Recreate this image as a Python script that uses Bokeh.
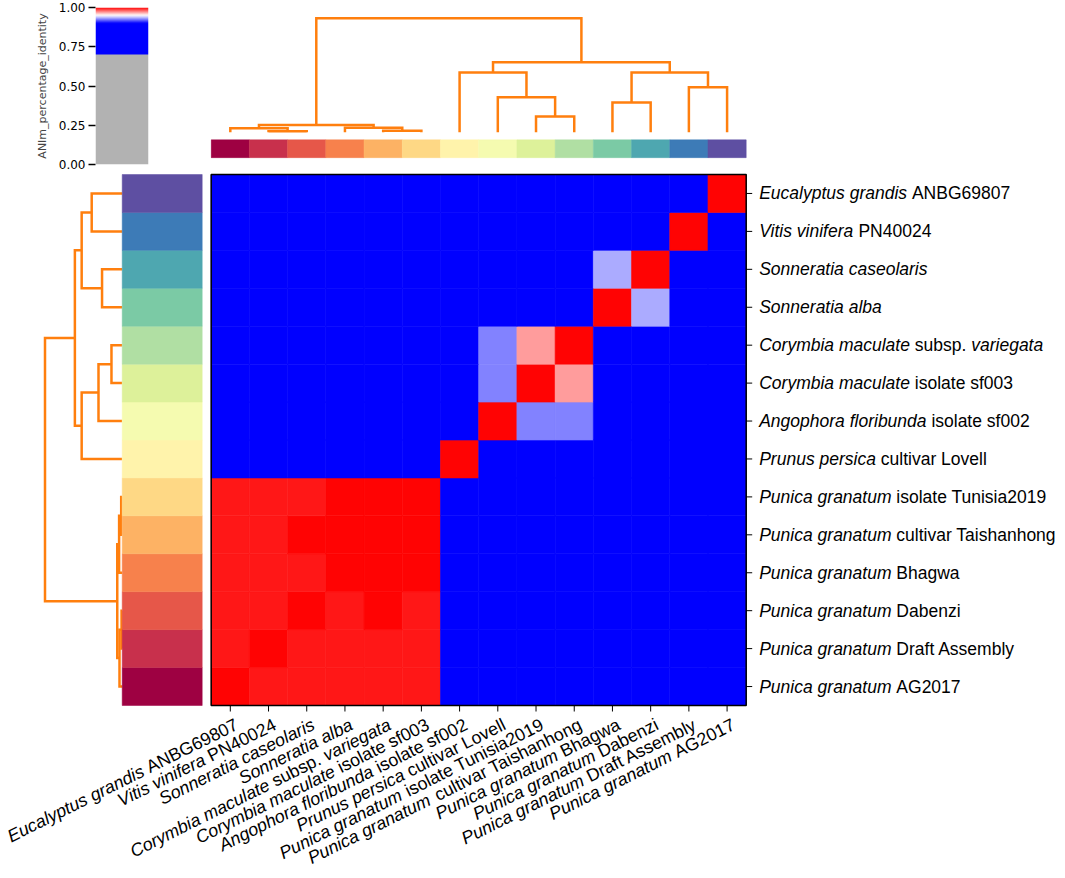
import re
import math
import numpy as np
from bokeh.plotting import figure
from bokeh.models import (Range1d, ColumnDataSource, LinearColorMapper,
                          FixedTicker, PrintfTickFormatter)
from bokeh.layouts import column, row
from bokeh.transform import transform
from bokeh.core.properties import value
from bokeh.embed import file_html
from bokeh.resources import INLINE

# ---------------- data ----------------
# leaf order: heatmap rows bottom -> top, heatmap columns left -> right
leaf_labels = [
    "<i>Punica granatum</i> AG2017",
    "<i>Punica granatum</i> Draft Assembly",
    "<i>Punica granatum</i> Dabenzi",
    "<i>Punica granatum</i> Bhagwa",
    "<i>Punica granatum</i> cultivar Taishanhong",
    "<i>Punica granatum</i> isolate Tunisia2019",
    "<i>Prunus persica</i> cultivar Lovell",
    "<i>Angophora floribunda</i> isolate sf002",
    "<i>Corymbia maculate</i> isolate sf003",
    "<i>Corymbia maculate</i> subsp. <i>variegata</i>",
    "<i>Sonneratia alba</i>",
    "<i>Sonneratia caseolaris</i>",
    "<i>Vitis vinifera</i> PN40024",
    "<i>Eucalyptus grandis</i> ANBG69807",
]

# bottom tick labels exactly as printed, left -> right
x_tick_labels = [
    "<i>Eucalyptus grandis</i> ANBG69807",
    "<i>Vitis vinifera</i> PN40024",
    "<i>Sonneratia caseolaris</i>",
    "<i>Sonneratia alba</i>",
    "<i>Corymbia maculate</i> subsp. <i>variegata</i>",
    "<i>Corymbia maculate</i> isolate sf003",
    "<i>Angophora floribunda</i> isolate sf002",
    "<i>Prunus persica</i> cultivar Lovell",
    "<i>Punica granatum</i> isolate Tunisia2019",
    "<i>Punica granatum</i> cultivar Taishanhong",
    "<i>Punica granatum</i> Bhagwa",
    "<i>Punica granatum</i> Dabenzi",
    "<i>Punica granatum</i> Draft Assembly",
    "<i>Punica granatum</i> AG2017",
]

# ANIm percentage identity, row i / column j in leaf order
ani_identity = [
    [1.000, 0.995, 0.995, 0.995, 0.995, 0.995, 0.840, 0.850, 0.850, 0.850, 0.870, 0.870, 0.840, 0.850],
    [0.995, 1.000, 0.995, 0.995, 0.995, 0.995, 0.840, 0.850, 0.850, 0.850, 0.870, 0.870, 0.840, 0.850],
    [0.995, 0.995, 1.000, 0.995, 0.999, 0.995, 0.840, 0.850, 0.850, 0.850, 0.870, 0.870, 0.840, 0.850],
    [0.995, 0.995, 0.995, 1.000, 0.999, 0.999, 0.840, 0.850, 0.850, 0.850, 0.870, 0.870, 0.840, 0.850],
    [0.995, 0.995, 0.999, 0.999, 1.000, 0.999, 0.840, 0.850, 0.850, 0.850, 0.870, 0.870, 0.840, 0.850],
    [0.995, 0.995, 0.995, 0.999, 0.999, 1.000, 0.840, 0.850, 0.850, 0.850, 0.870, 0.870, 0.840, 0.850],
    [0.840, 0.840, 0.840, 0.840, 0.840, 0.840, 1.000, 0.840, 0.840, 0.840, 0.840, 0.840, 0.840, 0.840],
    [0.850, 0.850, 0.850, 0.850, 0.850, 0.850, 0.840, 1.000, 0.925, 0.925, 0.860, 0.860, 0.840, 0.880],
    [0.850, 0.850, 0.850, 0.850, 0.850, 0.850, 0.840, 0.925, 1.000, 0.969, 0.860, 0.860, 0.840, 0.880],
    [0.850, 0.850, 0.850, 0.850, 0.850, 0.850, 0.840, 0.925, 0.969, 1.000, 0.860, 0.860, 0.840, 0.880],
    [0.870, 0.870, 0.870, 0.870, 0.870, 0.870, 0.840, 0.860, 0.860, 0.860, 1.000, 0.933, 0.840, 0.860],
    [0.870, 0.870, 0.870, 0.870, 0.870, 0.870, 0.840, 0.860, 0.860, 0.860, 0.933, 1.000, 0.840, 0.860],
    [0.840, 0.840, 0.840, 0.840, 0.840, 0.840, 0.840, 0.840, 0.840, 0.840, 0.840, 0.840, 1.000, 0.840],
    [0.850, 0.850, 0.850, 0.850, 0.850, 0.850, 0.840, 0.880, 0.880, 0.880, 0.860, 0.860, 0.840, 1.000],
]

# hierarchical clustering merges: (child a, child b, distance); nodes >= 14 are merges
linkage = [
    (1, 2, 0.008),
    (0, 14, 0.035),
    (4, 5, 0.013),
    (3, 16, 0.040),
    (15, 17, 0.064),
    (8, 9, 0.139),
    (7, 19, 0.307),
    (6, 20, 0.525),
    (10, 11, 0.261),
    (12, 13, 0.395),
    (22, 23, 0.525),
    (21, 24, 0.613),
    (18, 25, 1.000),
]

# class colours (Spectral) in leaf order
class_colors = ["#9e0142", "#c8304c", "#e65749", "#f7814c", "#fdb264", "#fed885", "#fff3ab",
                "#f5fbb0", "#ddf19a", "#b0dfa3", "#7bcaa5", "#4ea7b0", "#3d7bb7", "#5e4fa2"]

colorbar_ticks = [0.0, 0.25, 0.5, 0.75, 1.0]
colorbar_title = "ANIm_percentage_identity"

# ---------------- styling / layout ----------------
N = len(leaf_labels)
PAGE_W = 1060
TOP_H = 172
BOT_H = 700
CB_W = 210
HM_X0, HM_X1 = 210.7, 745.7          # heatmap left/right (px)
HM_T, HM_B = 2.0, 533.0              # heatmap top/bottom inside lower canvas
CW = (HM_X1 - HM_X0) / N
CH = (HM_B - HM_T) / N
DENDRO_COLOR = "#ff7f0e"
LABEL_FONT = "Liberation Sans"
RIGHT_SIZE = 17.5
BOTTOM_SIZE = 17.8
ANGLE = math.radians(26.5)


def frame_range(lo, hi, p_lo, p_hi, length):
    s = (hi - lo) / (p_hi - p_lo)
    start = lo - p_lo * s
    return Range1d(start, start + length * s)


def pyani_rgb(t):
    if t < 0.7:
        return (178, 178, 178)
    if t < 0.9:
        return (0, 0, 255)
    if t < 0.95:
        f = (t - 0.9) / 0.05
        return (int(round(255 * f)), int(round(255 * f)), 255)
    f = (t - 0.95) / 0.05
    return (255, int(round(255 * (1 - f))), int(round(255 * (1 - f))))


NPAL = 1000
palette = ["#%02x%02x%02x" % pyani_rgb((k + 0.5) / NPAL) for k in range(NPAL)]
mapper = LinearColorMapper(palette=palette, low=0.0, high=1.0)

# Helvetica / Arial advance widths (1/1000 em)
W = dict(zip("ABCDEFGHIJKLMNOPQRSTUVWXYZ",
             [667, 667, 722, 722, 667, 611, 778, 722, 278, 500, 667, 556, 833, 722, 778, 667,
              778, 722, 667, 611, 722, 667, 944, 667, 667, 611]))
W.update(dict(zip("abcdefghijklmnopqrstuvwxyz",
                  [556, 556, 500, 556, 556, 278, 556, 556, 222, 222, 500, 222, 833, 556, 556, 556,
                   556, 333, 500, 278, 556, 500, 722, 500, 500, 500])))
W.update({d: 556 for d in "0123456789"})
W.update({" ": 278, ".": 278})


def tw(s, size):
    return sum(W.get(c, 556) for c in s) * size / 1000.0


def layout_parts(label, size):
    pos = 0.0
    res = []
    for m in re.finditer(r"<i>(.*?)</i>|([^<]+)", label):
        txt, it = (m.group(1), True) if m.group(1) is not None else (m.group(2), False)
        lead = len(txt) - len(txt.lstrip(" "))
        core = txt.strip(" ")
        s = pos + tw(" " * lead, size)
        e = s + tw(core, size)
        if core:
            res.append((core, it, s, e))
        pos += tw(txt, size)
    return res, pos


def dendro_links(merges, n):
    pos = {i: i + 0.5 for i in range(n)}
    hgt = {i: 0.0 for i in range(n)}
    ps, hs = [], []
    for k, (a, b, h) in enumerate(merges):
        ps.append([pos[a], pos[a], pos[b], pos[b]])
        hs.append([hgt[a], h, h, hgt[b]])
        pos[n + k] = (pos[a] + pos[b]) / 2.0
        hgt[n + k] = h
    return ps, hs


link_pos, link_hgt = dendro_links(linkage, N)

# ---------------- colour bar ----------------
pa = figure(width=CB_W, height=TOP_H, x_range=Range1d(0, 1), y_range=Range1d(0, 1),
            output_backend="svg", toolbar_location=None, x_axis_location=None,
            min_border_left=95, min_border_right=CB_W - 148, min_border_top=7,
            min_border_bottom=TOP_H - 164, outline_line_color=None)
grad = np.linspace(0.0, 1.0, NPAL).reshape(-1, 1)
pa.image(image=[grad], x=0, y=0, dw=1, dh=1, color_mapper=mapper)
pa.grid.visible = False
ya = pa.yaxis[0]
ya.ticker = FixedTicker(ticks=colorbar_ticks)
ya.formatter = PrintfTickFormatter(format="%.2f")
ya.major_tick_out = 7
ya.major_tick_in = 0
ya.major_tick_line_width = 1.3
ya.minor_tick_line_color = None
ya.axis_line_color = None
ya.major_label_text_font = "DejaVu Sans"
ya.major_label_text_font_size = "12px"
ya.major_label_text_color = "black"
ya.major_label_standoff = 3
ya.axis_label = colorbar_title
ya.axis_label_text_font = "DejaVu Sans"
ya.axis_label_text_font_size = "11px"
ya.axis_label_text_font_style = "normal"
ya.axis_label_standoff = 7

# ---------------- top dendrogram + class strip ----------------
TB_W = PAGE_W - CB_W
pb = figure(width=TB_W, height=TOP_H,
            x_range=frame_range(0, N, HM_X0 - CB_W, HM_X1 - CB_W, TB_W),
            y_range=frame_range(0, 1, TOP_H - 136.7, TOP_H - 11.7, TOP_H),
            output_backend="svg", toolbar_location=None, x_axis_location=None,
            y_axis_location=None, min_border=0, outline_line_color=None)
pb.grid.visible = False
pb.extra_y_ranges = {"strip": frame_range(0, 1, TOP_H - 164.5, TOP_H - 145.0, TOP_H)}
pb.multi_line(xs=link_pos, ys=link_hgt, line_color=DENDRO_COLOR, line_width=2.5,
              line_join="miter")
top_strip = ColumnDataSource(dict(x=[i + 0.5 for i in range(N)], c=class_colors))
pb.rect(x="x", y=0.5, width=1, height=1, source=top_strip, fill_color="c",
        line_color="c", line_width=0.5, y_range_name="strip")

# ---------------- heatmap + left dendrogram + left strip ----------------
pc = figure(width=PAGE_W, height=BOT_H,
            x_range=frame_range(0, N, HM_X0, HM_X1, PAGE_W),
            y_range=frame_range(0, N, BOT_H - HM_B, BOT_H - HM_T, BOT_H),
            output_backend="svg", toolbar_location=None, x_axis_location=None,
            y_axis_location=None, min_border=0, outline_line_color=None)
pc.grid.visible = False
pc.extra_x_ranges = {"dl": frame_range(0, 1, 121.7, 44.5, PAGE_W),
                     "sl": frame_range(0, 1, 121.7, 201.7, PAGE_W)}

pc.multi_line(xs=link_hgt, ys=link_pos, line_color=DENDRO_COLOR, line_width=2.5,
              line_join="miter", x_range_name="dl")
left_strip = ColumnDataSource(dict(y=[i + 0.5 for i in range(N)], c=class_colors))
pc.rect(x=0.5, y="y", width=1, height=1, source=left_strip, fill_color="c",
        line_color="c", line_width=0.5, x_range_name="sl")

hx, hy, hv = [], [], []
for i in range(N):
    for j in range(N):
        hx.append(j + 0.5)
        hy.append(i + 0.5)
        hv.append(ani_identity[i][j])
heat = ColumnDataSource(dict(x=hx, y=hy, v=hv))
pc.rect(x="x", y="y", width=1, height=1, source=heat,
        fill_color=transform("v", mapper), line_color=transform("v", mapper), line_width=0.6)
pc.rect(x=N / 2, y=N / 2, width=N, height=N, fill_color=None, line_color="black",
        line_width=1.5)

# ticks
pc.ray(x=[N] * N, y=[i + 0.5 for i in range(N)], length=6, length_units="screen",
       angle=0, line_color="black", line_width=1)
pc.ray(x=[j + 0.5 for j in range(N)], y=[0] * N, length=6, length_units="screen",
       angle=-math.pi / 2, line_color="black", line_width=1)

# right labels (left aligned)
r_it = dict(x=[], y=[], t=[])
r_rg = dict(x=[], y=[], t=[])
for i, lab in enumerate(leaf_labels):
    parts, _ = layout_parts(lab, RIGHT_SIZE)
    for core, it, s, e in parts:
        d = r_it if it else r_rg
        d["x"].append(N + (13.0 + s) / CW)
        d["y"].append(i + 0.5)
        d["t"].append(core)
for d, style in ((r_it, "italic"), (r_rg, "normal")):
    pc.text(x="x", y="y", text="t", source=ColumnDataSource(d), text_font=value(LABEL_FONT),
            text_font_size=value("%gpx" % RIGHT_SIZE), text_font_style=style,
            text_color="black", text_align="left", text_baseline="middle")

# bottom labels (rotated, right aligned at tick)
b_it = dict(x=[], y=[], t=[])
b_rg = dict(x=[], y=[], t=[])
for j, lab in enumerate(x_tick_labels):
    parts, total = layout_parts(lab, BOTTOM_SIZE)
    ax = j + 0.5 + 2.0 / CW
    ay = -9.0 / CH
    for core, it, s, e in parts:
        back = total - e
        d = b_it if it else b_rg
        d["x"].append(ax - back * math.cos(ANGLE) / CW)
        d["y"].append(ay - back * math.sin(ANGLE) / CH)
        d["t"].append(core)
for d, style in ((b_it, "italic"), (b_rg, "normal")):
    pc.text(x="x", y="y", text="t", source=ColumnDataSource(d), text_font=value(LABEL_FONT),
            text_font_size=value("%gpx" % BOTTOM_SIZE), text_font_style=style,
            text_color="black", text_align="right", text_baseline="top", angle=ANGLE)

layout = column(row(pa, pb), pc)
open("out.html", "w").write(file_html(layout, INLINE))
